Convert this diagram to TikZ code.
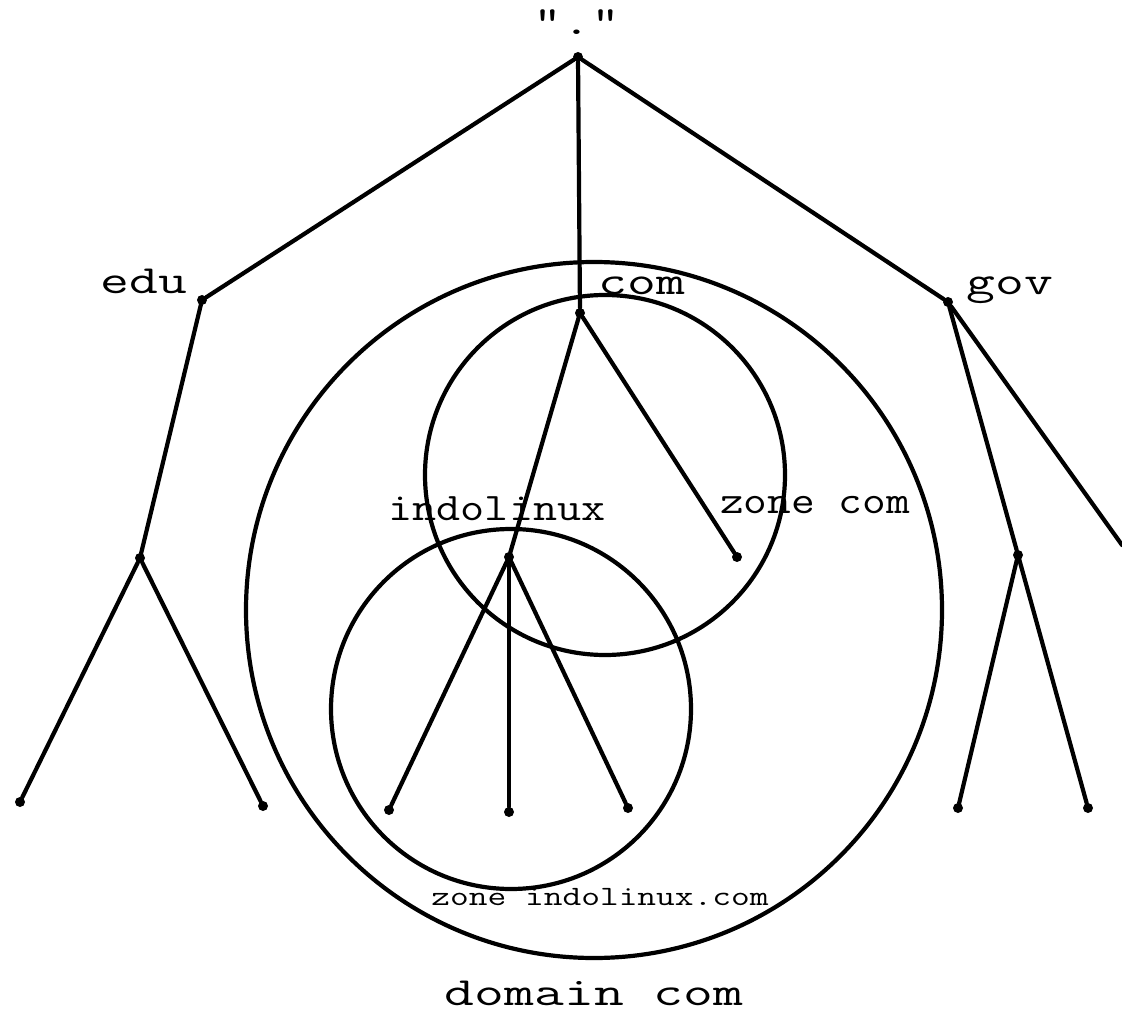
\documentclass[tikz,border=0pt]{standalone}
\usepackage{graphicx}
\newcommand\widetxt[2]{\scalebox{#1}[1]{#2}}
\begin{document}
\begin{tikzpicture}[x=1pt,y=-1pt,
  dot/.style={circle,fill=black,inner sep=0pt,minimum size=10pt},
  edge/.style={line width=4.2pt,line cap=round},
  ring/.style={line width=4.2pt},
  big/.style={font=\ttfamily\fontsize{40}{44}\selectfont,anchor=base,inner sep=0pt},
  mid/.style={font=\ttfamily\fontsize{39}{44}\selectfont,anchor=base,inner sep=0pt},
  small/.style={font=\ttfamily\fontsize{28}{32}\selectfont,anchor=base,inner sep=0pt}]
\useasboundingbox (0,0) rectangle (1122,1016);
% circles
\node[draw,ring,circle,minimum size=696pt,inner sep=0pt] (domcircle) at (594,610) {};
\node[draw,ring,circle,minimum size=360pt,inner sep=0pt] (zcom) at (605,475) {};
\node[draw,ring,circle,minimum size=360pt,inner sep=0pt] (zindo) at (511,709) {};
% nodes
\node[dot] (root) at (578,57) {};
\node[dot] (edu) at (202,300) {};
\node[dot] (com) at (580,313) {};
\node[dot] (gov) at (948,302) {};
\node[dot] (edu1) at (140,558) {};
\node[dot] (edu11) at (20,802) {};
\node[dot] (edu12) at (263,806) {};
\node[dot] (indo) at (509,557) {};
\node[dot] (com2) at (737,557) {};
\node[dot] (indo1) at (389,810) {};
\node[dot] (indo2) at (509,812) {};
\node[dot] (indo3) at (628,808) {};
\node[dot] (gov1) at (1018,555) {};
\node[dot] (gov11) at (958,808) {};
\node[dot] (gov12) at (1088,808) {};
\coordinate (gov2) at (1122,545);
% edges
\draw[edge] (root) -- (edu);
\draw[edge] (root) -- (com);
\draw[edge] (root) -- (gov);
\draw[edge] (edu) -- (edu1);
\draw[edge] (edu1) -- (edu11);
\draw[edge] (edu1) -- (edu12);
\draw[edge] (com) -- (indo);
\draw[edge] (com) -- (com2);
\draw[edge] (indo) -- (indo1);
\draw[edge] (indo) -- (indo2);
\draw[edge] (indo) -- (indo3);
\draw[edge] (gov) -- (gov1);
\draw[edge] (gov) -- (gov2);
\draw[edge] (gov1) -- (gov11);
\draw[edge] (gov1) -- (gov12);
% labels
\node[big] (lroot) at (577,35) {\widetxt{1.4}{"."}};
\node[big] (ledu) at (144,294) {\widetxt{1.4}{edu}};
\node[big] (lcom) at (642,295) {\widetxt{1.4}{com}};
\node[big] (lgov) at (1010,295) {\widetxt{1.4}{gov}};
\node[mid] (lindo) at (497,520) {\widetxt{1.2}{indolinux}};
\node[mid] (lzcom) at (815,513) {\widetxt{1.18}{zone com}};
\node[small] (lzindo) at (600,905) {\widetxt{1.3}{zone indolinux.com}};
\node[big] (ldom) at (594,1005) {\widetxt{1.45}{domain com}};
\end{tikzpicture}
\end{document}
